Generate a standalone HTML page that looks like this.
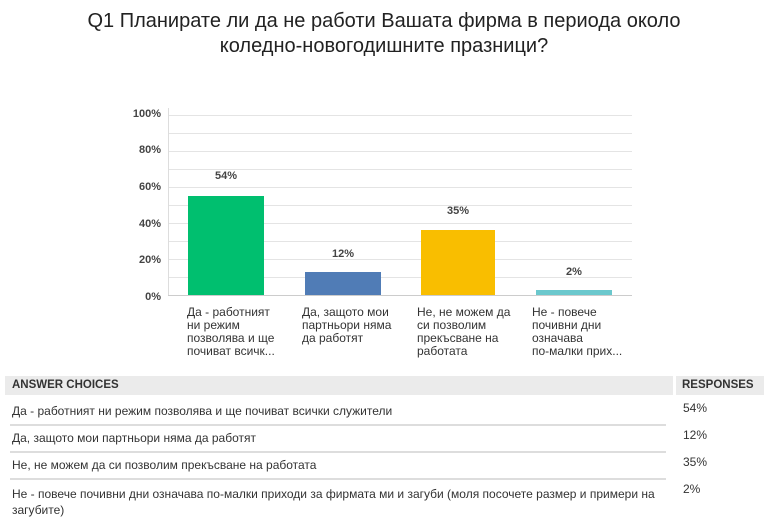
<!DOCTYPE html>
<html><head><meta charset="utf-8"><style>
body{margin:0;width:768px;height:530px;background:#fff;font-family:"Liberation Sans",sans-serif;overflow:hidden;position:relative;color:#333}
.t{position:absolute;white-space:nowrap}
.title{left:0;width:768px;text-align:center;font-size:20px;color:#222;top:9px;line-height:25px;position:absolute}
.yl{position:absolute;font-size:11px;font-weight:bold;color:#444;width:40px;text-align:right;left:121px}
.g{position:absolute;left:168px;width:464px;height:1px;background:#e4e4e4}
.bar{position:absolute}
.v{position:absolute;font-size:11px;font-weight:bold;color:#444;width:76px;text-align:center}
.xl{position:absolute;font-size:12px;color:#333;line-height:13px;width:110px;top:306px}
.tb{position:absolute;font-size:12px;color:#333;white-space:nowrap}
.sep{position:absolute;left:10px;width:656px;height:2px;background:#ddd}
</style></head><body>
<div class="title">Q1 Планирате ли да не работи Вашата фирма в периода около<br>коледно-новогодишните празници?</div>
<div class="g" style="top:115px"></div><div class="g" style="top:133px"></div><div class="g" style="top:151px"></div><div class="g" style="top:169px"></div><div class="g" style="top:187px"></div><div class="g" style="top:205px"></div><div class="g" style="top:223px"></div><div class="g" style="top:241px"></div><div class="g" style="top:259px"></div><div class="g" style="top:277px"></div>
<div style="position:absolute;left:168px;top:108px;width:1px;height:188px;background:#ddd"></div>
<div style="position:absolute;left:168px;top:295px;width:464px;height:1px;background:#ccc"></div>
<div class="yl" style="top:108px">100%</div>
<div class="yl" style="top:144px">80%</div>
<div class="yl" style="top:181px">60%</div>
<div class="yl" style="top:218px">40%</div>
<div class="yl" style="top:254px">20%</div>
<div class="yl" style="top:291px">0%</div>
<div class="bar" style="left:188px;top:196px;width:76px;height:99px;background:#00bf6f"></div>
<div class="bar" style="left:305px;top:272px;width:76px;height:23px;background:#507cb6"></div>
<div class="bar" style="left:421px;top:230px;width:74px;height:65px;background:#f9be00"></div>
<div class="bar" style="left:536px;top:290px;width:76px;height:5px;background:#6bc8cd"></div>
<div class="v" style="left:188px;top:170px">54%</div>
<div class="v" style="left:305px;top:248px">12%</div>
<div class="v" style="left:420px;top:205px">35%</div>
<div class="v" style="left:536px;top:266px">2%</div>
<div class="xl" style="left:187px">Да - работният<br>ни режим<br>позволява и ще<br>почиват всичк...</div>
<div class="xl" style="left:302px">Да, защото мои<br>партньори няма<br>да работят</div>
<div class="xl" style="left:417px">Не, не можем да<br>си позволим<br>прекъсване на<br>работата</div>
<div class="xl" style="left:532px">Не - повече<br>почивни дни<br>означава<br>по-малки прих...</div>
<div style="position:absolute;left:5px;top:376px;width:668px;height:19px;background:#ebebeb"></div>
<div style="position:absolute;left:676px;top:376px;width:88px;height:19px;background:#ebebeb"></div>
<div class="tb" style="left:12px;top:379px;font-weight:bold;font-size:11.5px">ANSWER CHOICES</div>
<div class="tb" style="left:682px;top:379px;font-weight:bold;font-size:11.5px">RESPONSES</div>
<div class="tb" style="left:12px;top:404px">Да - работният ни режим позволява и ще почиват всички служители</div>
<div class="tb" style="left:683px;top:401px">54%</div>
<div class="sep" style="top:424px"></div>
<div class="tb" style="left:12px;top:431px">Да, защото мои партньори няма да работят</div>
<div class="tb" style="left:683px;top:428px">12%</div>
<div class="sep" style="top:451px"></div>
<div class="tb" style="left:12px;top:458px">Не, не можем да си позволим прекъсване на работата</div>
<div class="tb" style="left:683px;top:455px">35%</div>
<div class="sep" style="top:478px"></div>
<div class="tb" style="left:12px;top:486px;line-height:16px">Не - повече почивни дни означава по-малки приходи за фирмата ми и загуби (моля посочете размер и примери на<br>загубите)</div>
<div class="tb" style="left:683px;top:482px">2%</div>
</body></html>
